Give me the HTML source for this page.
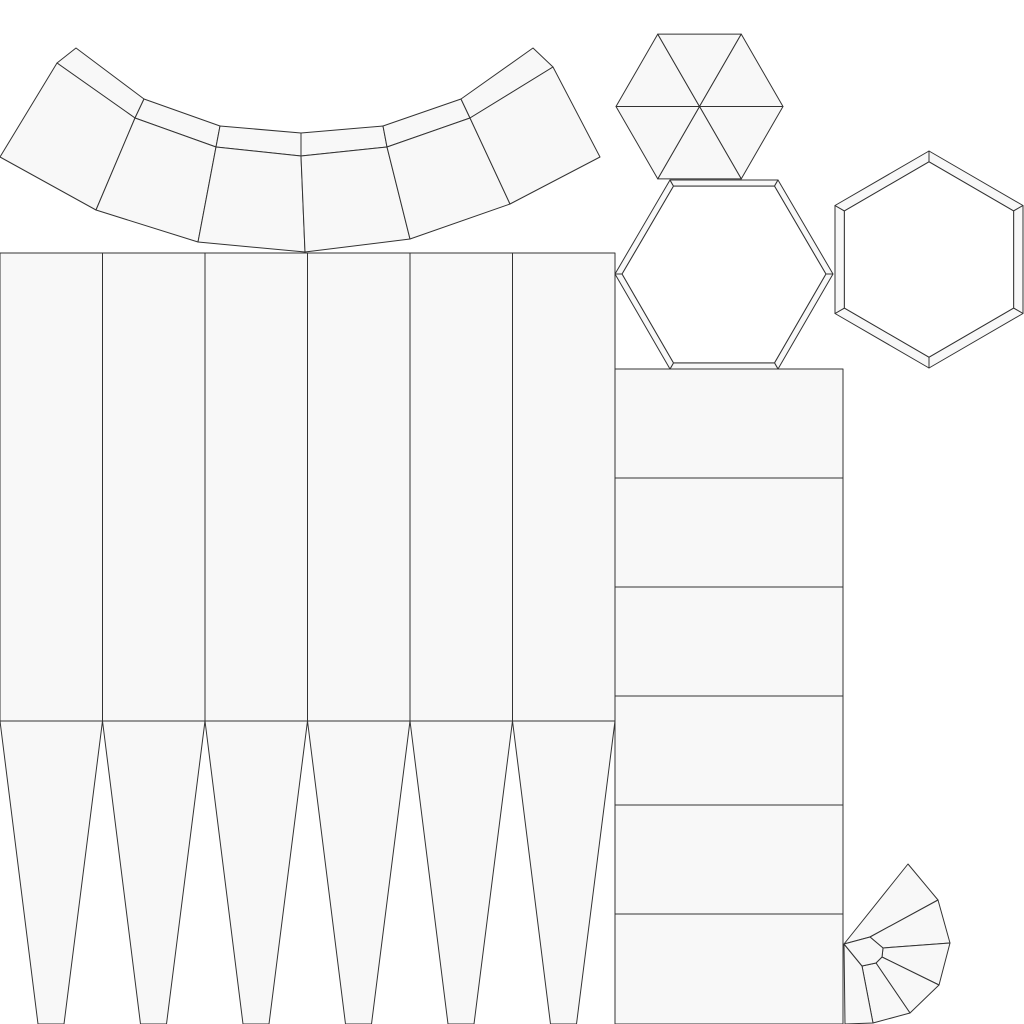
<!DOCTYPE html>
<html><head><meta charset="utf-8"><style>html,body{margin:0;padding:0;background:#fff}svg{display:block}</style></head>
<body>
<svg id="uv" width="1024" height="1024" viewBox="0 0 1024 1024" xmlns="http://www.w3.org/2000/svg">
<g id="g" fill="#f8f8f8" stroke="#333" stroke-width="1" stroke-linejoin="round"></g>
</svg>
<script>
const colEdges = [0,102.5,205,307.5,410,512.5,615];
const rowEdges = [369,478,587,696,805,914,1024];
const arcOuter = [[76,48],[144,99],[220,126],[301,133],[383,126],[461,99],[533,48]];
const arcInner = [[57,63],[135,118],[216,147],[301,156],[387,147],[470,118],[553,67]];
const arcBottom = [[0,157],[96,210],[198,242],[305,252],[410,239],[510,204],[600,157]];
const fanOuter = [[908,864],[938,900],[950,943],[939,985],[910,1013],[873,1023]];
const fanInner = [[870,937],[883,948],[882,957],[876,963],[862,966]];
const g = document.getElementById('g');
function poly(pts, name, fill){
  const p = document.createElementNS('http://www.w3.org/2000/svg','polygon');
  p.setAttribute('points', pts.map(q=>q.join(',')).join(' '));
  if(fill) p.setAttribute('fill', fill);
  
  
  g.appendChild(p);
}
// arc strip
for(let i=0;i<6;i++){
  poly([arcOuter[i],arcOuter[i+1],arcInner[i+1],arcInner[i]],'arc-rim-face');
  poly([arcInner[i],arcInner[i+1],arcBottom[i+1],arcBottom[i]],'arc-face');
}
// big grid + tapered spikes
for(let i=0;i<6;i++){
  const a=colEdges[i], b=colEdges[i+1];
  poly([[a,253],[b,253],[b,721],[a,721]],'column-face');
  poly([[a,721],[b,721],[a+64,1024],[a+38,1024]],'spike-face');
}
// right column
for(let i=0;i<6;i++){
  poly([[615,rowEdges[i]],[843,rowEdges[i]],[843,rowEdges[i+1]],[615,rowEdges[i+1]]],'row-face');
}
// top hexagon (triangle fan)
function hexPts(cx,cy,r,flat,sx){const o=[];for(let k=0;k<6;k++){const an=(flat?0:30)*Math.PI/180+k*Math.PI/3;o.push([cx+r*Math.cos(an)*(sx||1),cy+r*Math.sin(an)]);}return o;}
const h1=hexPts(699.5,106.5,83.5,true,1);
for(let k=0;k<6;k++) poly([[699.5,106.5],h1[k],h1[(k+1)%6]],'hex-cap-triangle');
// middle hex frame
function frame(cx,cy,outer,inner){
  for(let k=0;k<6;k++) poly([outer[k],outer[(k+1)%6],inner[(k+1)%6],inner[k]],'hex-frame-face');
  poly(inner,'hex-hole','#fff');
}
const mo=[[833,274],[778,369],[670,369],[615,274],[670,180],[778,180]];
const mi=mo.map(p=>[724+(p[0]-724)*0.935,274.5+(p[1]-274.5)*0.935]);
frame(724,274.5,mo,mi);
const ro=[[929,151],[1023,205.5],[1023,313.5],[929,368],[835,313.5],[835,205.5]];
const ri=ro.map(p=>[929+(p[0]-929)*0.9,259.5+(p[1]-259.5)*0.9]);
frame(929,259.5,ro,ri);
// fan
const apex=[844,944];
poly([apex,fanOuter[0],fanOuter[1],fanInner[0]],'fan-face');
for(let k=0;k<4;k++) poly([fanInner[k],fanOuter[k+1],fanOuter[k+2],fanInner[k+1]],'fan-face');
poly([apex,fanInner[4],fanOuter[5],[845,1024]],'fan-face');
poly([apex,fanInner[0],fanInner[1],fanInner[2],fanInner[3],fanInner[4]],'fan-center');
</script>
</body></html>
